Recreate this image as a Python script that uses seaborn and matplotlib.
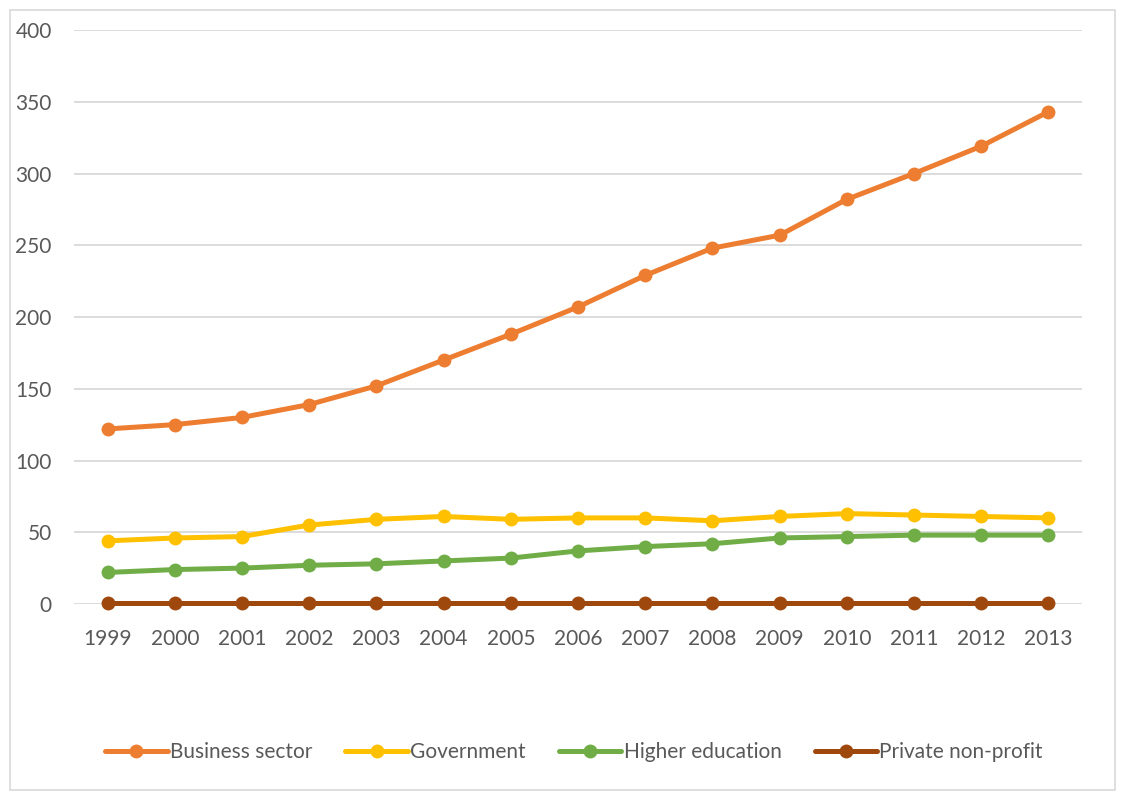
import matplotlib
matplotlib.use("Agg")
import matplotlib.pyplot as plt
import seaborn as sns
import pandas as pd
from matplotlib.patches import Rectangle

years = [1999, 2000, 2001, 2002, 2003, 2004, 2005, 2006, 2007, 2008, 2009, 2010, 2011, 2012, 2013]
business = [122, 125, 130, 139, 152, 170, 188, 207, 229, 248, 257, 282, 300, 319, 343]
government = [44, 46, 47, 55, 59, 61, 59, 60, 60, 58, 61, 63, 62, 61, 60]
higher_ed = [22, 24, 25, 27, 28, 30, 32, 37, 40, 42, 46, 47, 48, 48, 48]
private_np = [1, 1, 1, 1, 1, 1, 1, 1, 1, 1, 1, 1, 1, 1, 1]

series_names = ["Business sector", "Government", "Higher education", "Private non-profit"]
colors = ["#ED7D31", "#FFC000", "#70AD47", "#9E480E"]

df = pd.DataFrame({
    "year": years * 4,
    "value": business + government + higher_ed + private_np,
    "series": sum([[n] * len(years) for n in series_names], []),
})

sns.set_theme(style="white")
plt.rcParams["font.family"] = ["Lato", "DejaVu Sans"]

fig = plt.figure(figsize=(11.21, 7.92), dpi=100)
ax = fig.add_axes([74 / 1121, 1 - 604 / 792, (1082 - 74) / 1121, (604 - 30) / 792])

sns.lineplot(data=df, x="year", y="value", hue="series", hue_order=series_names,
             palette=colors, marker="o", markersize=10, markeredgewidth=0,
             linewidth=3.6, ax=ax, legend=True)
for ln in ax.get_lines():
    ln.set_clip_on(False)

ax.set_xlim(1998.5, 2013.5)
ax.set_ylim(0, 400)
ax.set_yticks(range(0, 401, 50))
ax.set_xticks(years)
ax.set_xticklabels([str(y) for y in years])
ax.grid(axis="y", color="#D9D9D9", linewidth=1.3)
ax.grid(axis="x", visible=False)
ax.set_axisbelow(True)
for s in ax.spines.values():
    s.set_visible(False)
ax.tick_params(axis="y", length=0, pad=16, labelsize=15, labelcolor="#595959")
ax.tick_params(axis="x", length=0, pad=18, labelsize=15, labelcolor="#595959")
ax.set_xlabel("")
ax.set_ylabel("")

handles, labels = ax.get_legend_handles_labels()
ax.legend_.remove()
fig.legend(handles, labels, loc="center", bbox_to_anchor=(0.512, 1 - 752 / 792), ncol=4,
           frameon=False, fontsize=15, labelcolor="#595959", handlelength=3.0,
           handletextpad=0.1, columnspacing=1.6)

fig.patches.append(Rectangle((10 / 1121, 0.002), 1 - 16 / 1121, 1 - 10 / 792 - 0.002,
                             transform=fig.transFigure, fill=False,
                             edgecolor="#D9D9D9", linewidth=1.2))

fig.savefig("out.png", dpi=100, facecolor="white")
